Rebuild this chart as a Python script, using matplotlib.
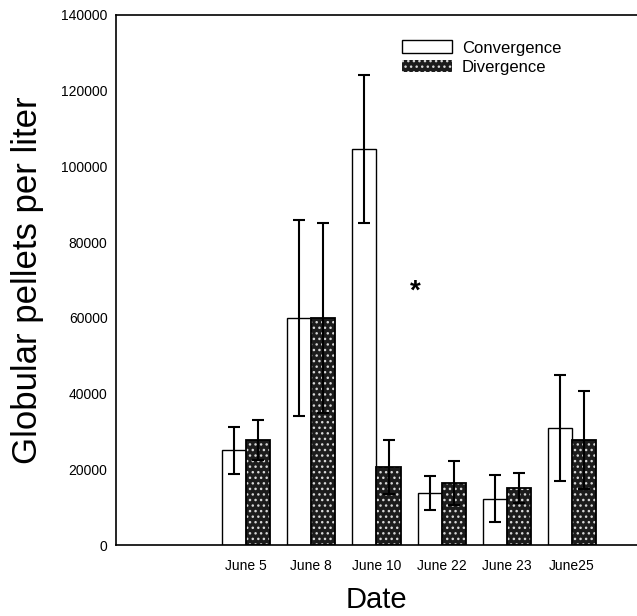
import matplotlib.pyplot as plt
import numpy as np
from matplotlib.patches import Patch

plt.rcParams['font.family'] = ['Liberation Sans', 'DejaVu Sans']
plt.rcParams['hatch.linewidth'] = 1.0

dates = ["June 5", "June 8", "June 10", "June 22", "June 23", "June25"]
conv = [25000, 60000, 104500, 13700, 12200, 31000]
conv_err = [6300, 25800, 19500, 4500, 6200, 14000]
div = [27800, 60000, 20600, 16400, 15100, 27800]
div_err = [5300, 25000, 7200, 5700, 4000, 13000]

x = np.arange(2, 2 + len(dates))
w = 0.37

fig = plt.figure(figsize=(6.37, 6.16), dpi=100)
ax = fig.add_axes([0.182, 0.115, 0.818, 0.861])

ax.bar(x - w / 2, conv, w, color="white", edgecolor="black", linewidth=1,
       label="Convergence")
# stippled fill, then a black outline over it
ax.bar(x + w / 2, div, w, color="#1c1c1c", edgecolor="#d8d8d8", hatch="...",
       linewidth=0)
ax.bar(x + w / 2, div, w, color="none", edgecolor="black", linewidth=1.3)

ax.errorbar(x - w / 2, conv, yerr=conv_err, fmt="none", ecolor="black",
            elinewidth=1.5, capsize=4.3, capthick=1.5)
ax.errorbar(x + w / 2, div, yerr=div_err, fmt="none", ecolor="black",
            elinewidth=1.5, capsize=4.3, capthick=1.5)

ax.text(4.6, 66900, "*", fontsize=20, fontweight="bold", ha="center", va="center")

ax.set_xlim(0, 8)
ax.set_ylim(0, 140000)
ax.set_xticks(x)
ax.set_xticklabels(dates, fontsize=10)
ax.set_yticks(np.arange(0, 140001, 20000))
ax.tick_params(axis="y", length=0, labelsize=10, pad=6)
ax.tick_params(axis="x", length=0, labelsize=10, pad=10)
ax.spines["right"].set_visible(False)
for s in ["left", "bottom", "top"]:
    ax.spines[s].set_linewidth(1.2)

ax.set_ylabel("Globular pellets per liter", fontsize=25, labelpad=12)
ax.set_xlabel("Date", fontsize=21, labelpad=9)

h1 = Patch(facecolor="white", edgecolor="black", linewidth=1)
h2 = Patch(facecolor="#1c1c1c", edgecolor="#d8d8d8", hatch="...", linewidth=0)
ax.legend([h1, h2], ["Convergence", "Divergence"], loc="upper left",
          bbox_to_anchor=(0.52, 0.98), frameon=False, fontsize=12,
          handlelength=3.0, handleheight=0.8, handletextpad=0.6,
          labelspacing=0.25)

plt.savefig("out.png", dpi=100)
